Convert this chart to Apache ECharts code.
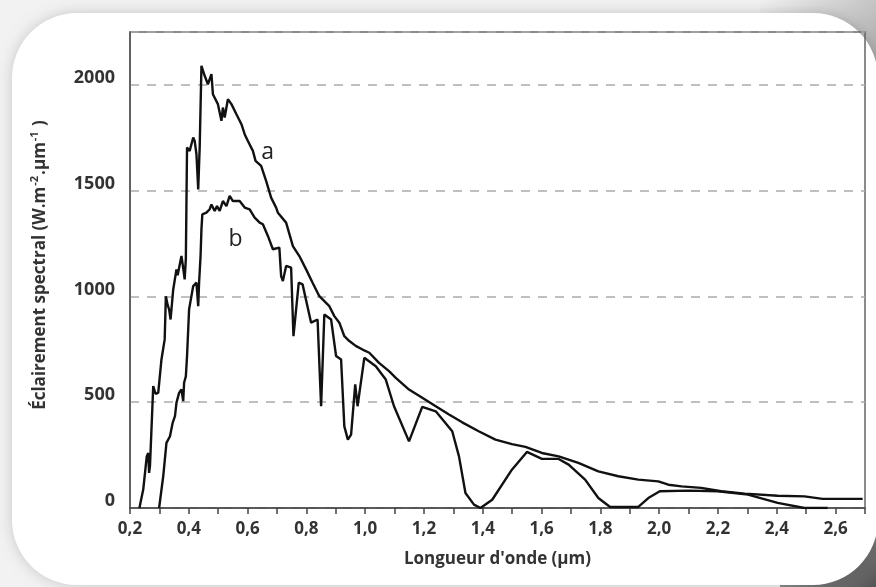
<!DOCTYPE html>
<html>
<head>
<meta charset="utf-8">
<script src="https://cdn.jsdelivr.net/npm/echarts@6/dist/echarts.min.js"></script>
<style>
  html, body { margin: 0; padding: 0; background: #f2f2f2; }
  #chart-container { width: 876px; height: 587px; }
</style>
</head>
<body>
<div id="chart-container"></div>
<script>
var dom = document.getElementById("chart-container");
var myChart = echarts.init(dom, null, { renderer: "canvas" });

// curve a : hors atmosphère
var waveA = [0.232, 0.245, 0.257, 0.262, 0.265, 0.268, 0.279, 0.287, 0.296, 0.307, 0.318, 0.322, 0.328, 0.333, 0.338,
  0.347, 0.358, 0.362, 0.375, 0.380, 0.386, 0.390, 0.394, 0.403, 0.415, 0.420, 0.426, 0.432, 0.437, 0.443,
  0.454, 0.465, 0.477, 0.482, 0.488, 0.499, 0.511, 0.516, 0.522, 0.533, 0.545, 0.562, 0.579, 0.590, 0.601,
  0.618, 0.627, 0.646, 0.663, 0.680, 0.697, 0.703, 0.731, 0.754, 0.776, 0.799, 0.821, 0.844, 0.861, 0.878,
  0.895, 0.912, 0.929, 0.946, 0.969, 0.991, 1.014, 1.047, 1.081, 1.104, 1.149, 1.194, 1.240, 1.285, 1.330,
  1.386, 1.443, 1.499, 1.545, 1.601, 1.658, 1.725, 1.793, 1.861, 1.929, 1.997, 2.031, 2.076, 2.143, 2.211,
  2.291, 2.403, 2.494, 2.556, 2.692];
var irrA = [0, 87, 244, 260, 166, 200, 576, 540, 544, 702, 797, 1001, 960, 939, 891,
  1033, 1128, 1100, 1191, 1143, 1081, 1180, 1704, 1688, 1751, 1735, 1672, 1506, 1704, 2090,
  2043, 2003, 2051, 1956, 1948, 1909, 1830, 1893, 1846, 1932, 1909, 1861, 1814, 1767, 1735,
  1688, 1641, 1617, 1546, 1467, 1420, 1396, 1349, 1238, 1191, 1128, 1065, 1001, 978, 954,
  907, 876, 812, 789, 765, 749, 734, 686, 647, 615, 560, 521, 481, 442, 405,
  363, 323, 302, 289, 260, 244, 213, 173, 150, 134, 126, 110, 102, 95, 79,
  68, 58, 55, 43, 43];

// curve b : au niveau du sol
var waveB = [0.299, 0.313, 0.324, 0.336, 0.345, 0.353, 0.358, 0.367, 0.375, 0.381, 0.384, 0.390, 0.394, 0.401,
  0.415, 0.426, 0.432, 0.435, 0.440, 0.443, 0.446, 0.460, 0.471, 0.477, 0.488, 0.496, 0.505, 0.516, 0.528,
  0.539, 0.550, 0.573, 0.590, 0.607, 0.624, 0.641, 0.652, 0.669, 0.686, 0.708, 0.714, 0.720, 0.731, 0.748,
  0.756, 0.774, 0.787, 0.816, 0.838, 0.850, 0.861, 0.884, 0.901, 0.918, 0.929, 0.941, 0.952, 0.966, 0.974,
  0.997, 1.036, 1.070, 1.098, 1.149, 1.194, 1.240, 1.296, 1.319, 1.341, 1.370, 1.392, 1.432, 1.499, 1.550,
  1.601, 1.658, 1.692, 1.748, 1.793, 1.833, 1.929, 1.963, 2.002, 2.098, 2.200, 2.302, 2.403, 2.494, 2.573];
var irrB = [0, 150, 308, 339, 402, 434, 497, 544, 560, 505, 592, 623, 718, 939,
  1049, 1065, 954, 1065, 1191, 1317, 1388, 1396, 1412, 1435, 1404, 1427, 1404, 1451, 1427,
  1475, 1451, 1451, 1420, 1412, 1373, 1349, 1341, 1286, 1223, 1231, 1096, 1073, 1144, 1136,
  812, 1065, 1057, 876, 891, 481, 915, 891, 718, 702, 386, 323, 347, 584, 481,
  710, 670, 607, 481, 315, 478, 457, 363, 244, 71, 16, 0, 39, 181, 265,
  232, 232, 205, 134, 47, 5, 5, 47, 79, 82, 79, 63, 24, 0, 0];

var curveLabels = [
  { name: "a", coord: [0.668, 1681] },
  { name: "b", coord: [0.559, 1270] }
];

function pairs(xs, ys) {
  var out = [];
  for (var i = 0; i < xs.length; i++) out.push([xs[i], ys[i]]);
  return out;
}

const tickFont = "Open Sans";

var option = {
  animation: false,
  backgroundColor: "#f2f2f2",
  graphic: [
    {
      type: "rect", z: -20, silent: true,
      shape: { x: 760, y: 0, width: 116, height: 130 },
      style: { fill: new echarts.graphic.LinearGradient(0, 0, 1, 1, [
        { offset: 0, color: "#f2f2f2" }, { offset: 1, color: "#8c8c8c" }]) }
    },
    {
      type: "rect", z: -20, silent: true,
      shape: { x: 780, y: 470, width: 96, height: 117 },
      style: { fill: new echarts.graphic.LinearGradient(0, 0, 1, 1, [
        { offset: 0, color: "#f2f2f2" }, { offset: 0.6, color: "#8a8a8a" }, { offset: 1, color: "#555" }]) }
    },
    {
      type: "rect", z: -10, silent: true,
      shape: { x: 12, y: 13, width: 866, height: 572, r: 65 },
      style: { fill: "#ffffff", shadowBlur: 14, shadowColor: "rgba(0,0,0,0.18)" }
    }
  ],
  grid: {
    left: 130,
    right: 11,
    top: 32,
    bottom: 79,
    show: true,
    borderColor: "#666",
    borderWidth: 1.5,
    backgroundColor: "transparent",
    outerBoundsMode: "none"
  },
  xAxis: {
    type: "value",
    min: 0.2,
    max: 2.7,
    interval: 0.1,
    name: "Longueur d'onde (µm)",
    nameLocation: "middle",
    nameGap: 43,
    nameTextStyle: { fontFamily: tickFont, fontWeight: "bold", fontSize: 17, color: "#333" },
    axisLine: { show: true, lineStyle: { color: "#444", width: 1.5 } },
    axisTick: { show: true, inside: false, length: 6, lineStyle: { color: "#444", width: 1.5 } },
    axisLabel: {
      margin: 13,
      fontFamily: tickFont, fontWeight: "bold", fontSize: 17, color: "#333",
      showMaxLabel: true,
      formatter: function (v) {
        var k = Math.round(v * 10);
        return k % 2 === 0 ? (k / 10).toFixed(1).replace(".", ",") : "";
      }
    },
    splitLine: { show: false }
  },
  yAxis: {
    type: "value",
    min: 0,
    max: 2250,
    interval: 500,
    name: "Éclairement spectral (W.m{sup|-2}.µm{sup|-1} )",
    nameLocation: "middle",
    nameGap: 78,
    nameTextStyle: {
      fontFamily: tickFont, fontWeight: "bold", fontSize: 17, color: "#333",
      padding: [0, 0, 0, 10],
      rich: {
        sup: { fontFamily: tickFont, fontWeight: "bold", fontSize: 11, color: "#333", padding: [0, 1, 12, 1] }
      }
    },
    axisLine: { show: true, lineStyle: { color: "#555", width: 1.5 } },
    axisTick: { show: false },
    axisLabel: {
      margin: 15,
      fontFamily: tickFont, fontWeight: "bold", fontSize: 18, color: "#333",
      verticalAlign: "bottom",
      lineHeight: 14,
      showMaxLabel: false,
      formatter: function (v) { return v % 500 === 0 ? String(v) : ""; }
    },
    splitLine: { show: true, lineStyle: { color: "#aaa", width: 1.5, type: [9, 8] } }
  },
  series: [
    {
      name: "a",
      type: "line",
      data: pairs(waveA, irrA),
      showSymbol: false,
      lineStyle: { color: "#111", width: 2.4 },
      markPoint: {
        symbol: "circle", symbolSize: 1,
        itemStyle: { color: "rgba(0,0,0,0)" },
        label: { show: true, position: "inside", formatter: "{b}", fontFamily: tickFont, fontSize: 23, color: "#222" },
        data: curveLabels
      }
    },
    {
      name: "b",
      type: "line",
      data: pairs(waveB, irrB),
      showSymbol: false,
      lineStyle: { color: "#111", width: 2.4 }
    }
  ]
};

myChart.setOption(option);
window.addEventListener("resize", myChart.resize);
</script>
</body>
</html>
